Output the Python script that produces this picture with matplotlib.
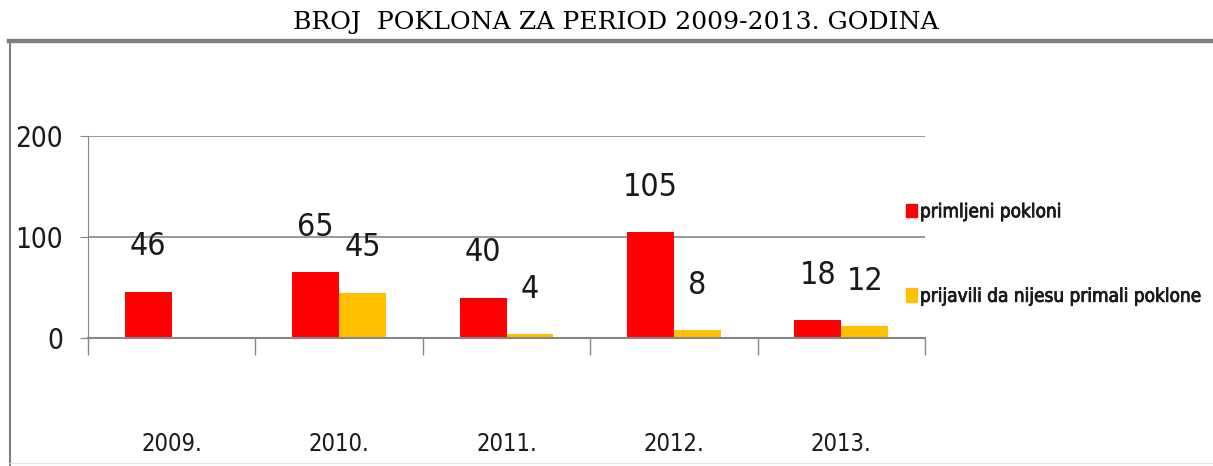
import os
import matplotlib
matplotlib.use('Agg')
import matplotlib.pyplot as plt
import numpy as np
from matplotlib import font_manager
from matplotlib import patheffects
from matplotlib.lines import Line2D
from matplotlib.patches import Patch

# podaci
godine = ['2009.', '2010.', '2011.', '2012.', '2013.']
primljeni = [46, 65, 40, 105, 18]
prijavili = [np.nan, 45, 4, 8, 12]
serije = ['primljeni pokloni', 'prijavili da nijesu primali poklone']
y_ticks = [0, 100, 200]

crvena = '#FF0000'
zuta = '#FFC000'
siva = '#868686'
tekst = '#1a1a1a'


# uzak font (kao Calibri razvucen), trazi se medju instaliranim fajlovima
def uzak_font(imena, size):
    fajlovi = font_manager.findSystemFonts()
    for ime in imena:
        for f in fajlovi:
            b = os.path.splitext(os.path.basename(f))[0].lower()
            b = b.replace('-', '').replace('_', '').replace(' ', '')
            if b == ime:
                return font_manager.FontProperties(fname=f, size=size)
    return font_manager.FontProperties(family='DejaVu Sans', stretch='condensed', size=size)


obicni = ['liberationsansnarrowregular', 'dejavusanscondensed', 'notosanscondensed',
          'notosanscondensedregular', 'opensanscondensedregular', 'robotocondensedregular',
          'robotocondensed']

W, H = 1213, 466
fig = plt.figure(figsize=(W / 100, H / 100), dpi=100)

# naslov
fig.text(616 / W, 1 - 22 / H, 'BROJ  POKLONA ZA PERIOD 2009-2013. GODINA',
         ha='center', va='center', fontsize=18.1, family=['DejaVu Serif'])

# okvir
fig.add_artist(Line2D([9 / W, 1], [1 - 41 / H, 1 - 41 / H], color='#7f7f7f', lw=3.2))
fig.add_artist(Line2D([10 / W, 10 / W], [1 - 41 / H, 0], color='#808080', lw=1.5))
fig.add_artist(Line2D([10 / W, 1], [3 / H, 3 / H], color='#e6e6e6', lw=1))

ax = fig.add_axes([88 / W, 1 - 338 / H, (925 - 88) / W, (338 - 136) / H])
x = np.arange(len(godine)) + 0.5
w = 0.28
ax.bar(x - w / 2, primljeni, w, color=crvena, label=serije[0])
ax.bar(x + w / 2, prijavili, w, color=zuta, label=serije[1])

fp_vr = uzak_font(obicni, 23)
for xi, v in zip(x - w / 2, primljeni):
    ax.annotate(str(v), (xi, v), xytext=(0, 21), textcoords='offset points',
                ha='center', va='bottom', fontproperties=fp_vr, color=tekst)
for xi, v in zip(x + w / 2, prijavili):
    if np.isnan(v):
        continue
    ax.annotate(str(v), (xi, v), xytext=(0, 21), textcoords='offset points',
                ha='center', va='bottom', fontproperties=fp_vr, color=tekst)

ax.set_xlim(0, 5)
ax.set_ylim(0, 200)
ax.set_yticks(y_ticks)
ax.set_yticklabels([str(t) for t in y_ticks], fontproperties=uzak_font(obicni, 20), color=tekst)
ax.tick_params(axis='y', length=6, color=siva, pad=12)
ax.set_xticks(x)
ax.set_xticklabels(godine, fontproperties=uzak_font(obicni, 17), color=tekst)
ax.tick_params(axis='x', which='major', length=0, pad=68)
ax.set_xticks(np.arange(len(godine) + 1), minor=True)
ax.tick_params(axis='x', which='minor', length=12, color=siva, width=1)
ax.grid(axis='y', color=siva, lw=1.2)
ax.set_axisbelow(True)
for s in ['top', 'right']:
    ax.spines[s].set_visible(False)
ax.spines['left'].set_color(siva)
ax.spines['bottom'].set_color(siva)
ax.spines['bottom'].set_linewidth(1.5)

# legenda
leg = fig.legend(handles=[Patch(color=crvena, label=serije[0]), Patch(color=zuta, label=serije[1])],
                 loc='center left', bbox_to_anchor=(889 / W, 1 - 254 / H), frameon=False,
                 handlelength=0.59, handleheight=0.74, handletextpad=0.15, labelspacing=3.47,
                 prop=uzak_font(obicni, 13.6))
for t in leg.get_texts():
    t.set_color(tekst)
    t.set_path_effects([patheffects.withStroke(linewidth=0.6, foreground=tekst)])

fig.savefig('out.png', dpi=100)
